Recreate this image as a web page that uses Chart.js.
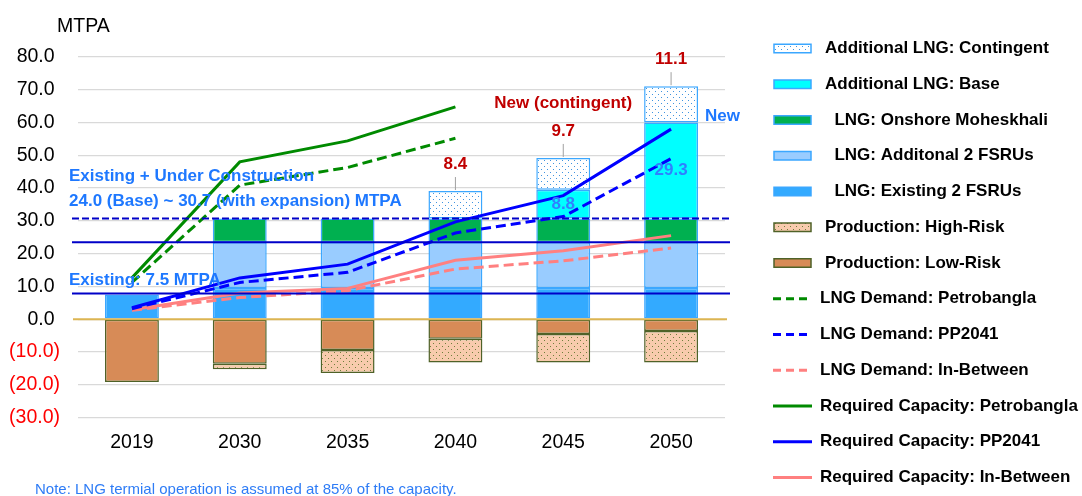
<!DOCTYPE html>
<html>
<head>
<meta charset="utf-8">
<script src="https://cdn.jsdelivr.net/npm/chart.js@4.4.1/dist/chart.umd.min.js"></script>
<style>
  html, body { margin: 0; padding: 0; background: #fff; }
  #wrap { width: 1082px; height: 496px; }
</style>
</head>
<body>
<div id="wrap"><canvas id="lngChart" width="1082" height="496"></canvas></div>
<script>
// LNG import capacity vs. demand outlook (MTPA)

const years = ['2019', '2030', '2035', '2040', '2045', '2050'];

// stacked capacity bars (production shown as negative)
const existingFsru = [7.5, 9.5, 9.5, 9.5, 9.5, 9.5];
const additionalFsru = [null, 14.0, 14.0, 14.0, 14.0, 14.0];
const onshoreMoheskhali = [null, 7.2, 7.2, 7.2, 7.2, 7.2];
const additionalBase = [null, null, null, null, 8.8, 29.3];
const additionalContingent = [null, null, null, 8.4, 9.7, 11.1];
const productionLowRisk = [-19.2, -13.6, -9.4, -6.0, -4.5, -3.6];
const productionHighRisk = [null, -1.7, -7.0, -7.2, -8.7, -9.6];

// demand / required capacity lines
const demandPetrobangla = [11.2, 40.9, 46.3, 55.2, null, null];
const demandPP2041 = [3.2, 11.2, 14.3, 26.3, 31.3, 49.0];
const demandInBetween = [2.7, 6.6, 8.7, 15.3, 17.8, 21.7];
const requiredPetrobangla = [12.6, 48.0, 54.4, 64.8, null, null];
const requiredPP2041 = [3.5, 12.6, 16.8, 29.7, 37.7, 58.0];
const requiredInBetween = [2.9, 8.0, 9.4, 18.0, 20.9, 25.5];

// horizontal capacity levels: existing, base, with expansion
const refLevels = [7.8, 23.5, 30.7];

const yMin = -30;
const yMax = 80;
const yStep = 10;

const FONT = "'Liberation Sans', Arial, sans-serif";
Chart.defaults.font.family = FONT;

function dotPattern(bg, dot) {
    const c = document.createElement('canvas');
    c.width = 6;
    c.height = 6;
    const g = c.getContext('2d');
    g.fillStyle = bg;
    g.fillRect(0, 0, 6, 6);
    g.fillStyle = dot;
    g.fillRect(1, 1, 1, 1);
    g.fillRect(4, 4, 1, 1);
    return g.createPattern(c, 'repeat');
}

const contingentFill = dotPattern('#ffffff', '#3f94e0');
const highRiskFill = dotPattern('#f8cbad', '#6f7f3c');

const lngBorder = '#3ba7ff';
const prodBorder = '#4f6228';

function lineSet(label, data, color, dashed, stack) {
    return {
        type: 'line',
        label,
        data,
        stack,
        borderColor: color,
        backgroundColor: color,
        borderWidth: 3,
        borderDash: dashed ? [10, 5] : [],
        pointRadius: 0,
        tension: 0,
        fill: false,
        order: 0
    };
}

function barSet(label, data, fill, border) {
    return {
        type: 'bar',
        label,
        data,
        stack: 'cap',
        backgroundColor: fill,
        borderColor: border,
        borderWidth: 1.5,
        borderSkipped: false,
        barPercentage: 0.5,
        categoryPercentage: 1.0,
        order: 1
    };
}

const datasets = [
    lineSet('LNG Demand: Petrobangla', demandPetrobangla, '#008a00', true, 'l1'),
    lineSet('LNG Demand: PP2041', demandPP2041, '#0000ff', true, 'l2'),
    lineSet('LNG Demand: In-Between', demandInBetween, '#ff8080', true, 'l3'),
    lineSet('Required Capacity: Petrobangla', requiredPetrobangla, '#008a00', false, 'l4'),
    lineSet('Required Capacity: PP2041', requiredPP2041, '#0000ff', false, 'l5'),
    lineSet('Required Capacity: In-Between', requiredInBetween, '#ff8080', false, 'l6'),
    barSet('  LNG: Existing 2 FSRUs', existingFsru, '#33aaff', lngBorder),
    barSet('  LNG: Additonal 2 FSRUs', additionalFsru, '#99ccff', lngBorder),
    barSet('  LNG: Onshore Moheskhali', onshoreMoheskhali, '#00b050', lngBorder),
    barSet('Additional LNG: Base', additionalBase, '#00ffff', lngBorder),
    barSet('Additional LNG: Contingent', additionalContingent, contingentFill, lngBorder),
    barSet('Production: Low-Risk', productionLowRisk, '#d78b57', prodBorder),
    barSet('Production: High-Risk', productionHighRisk, highRiskFill, prodBorder)
];

// legend order as in the original
const legendOrder = [10, 9, 8, 7, 6, 12, 11, 0, 1, 2, 3, 4, 5];

function hline(ctx, x1, x2, yy) {
    ctx.beginPath();
    ctx.moveTo(x1, yy);
    ctx.lineTo(x2, yy);
    ctx.stroke();
}

const overlayPlugin = {
    id: 'overlay',
    afterDatasetsDraw(chart) {
        const { ctx, chartArea: area, scales: { x, y } } = chart;
        ctx.save();

        // zero line
        ctx.strokeStyle = '#dcb552';
        ctx.lineWidth = 2;
        hline(ctx, area.left - 5, area.right + 2, y.getPixelForValue(0));

        // capacity levels
        ctx.strokeStyle = '#0000c8';
        refLevels.forEach((v, i) => {
            ctx.setLineDash(i === 2 ? [7, 3] : []);
            hline(ctx, area.left - 6, area.right + 5, y.getPixelForValue(v));
        });
        ctx.setLineDash([]);

        ctx.textBaseline = 'middle';
        ctx.textAlign = 'left';
        ctx.fillStyle = '#1e78ff';
        ctx.font = 'bold 17px ' + FONT;
        const topLevel = y.getPixelForValue(refLevels[2]);
        ctx.fillText('Existing + Under Construction', area.left - 9, topLevel - 42);
        ctx.fillText('24.0 (Base) ~ 30.7 (with expansion) MTPA', area.left - 9, topLevel - 17);
        ctx.fillText('Existing: 7.5 MTPA', area.left - 9, y.getPixelForValue(refLevels[0]) - 13);

        // contingent totals with leader lines
        const contMeta = chart.getDatasetMeta(10);
        additionalContingent.forEach((v, i) => {
            if (v == null) return;
            const bar = contMeta.data[i];
            ctx.strokeStyle = '#a0a0a0';
            ctx.lineWidth = 1;
            ctx.beginPath();
            ctx.moveTo(bar.x, bar.y - 1);
            ctx.lineTo(bar.x, bar.y - 14);
            ctx.stroke();
            ctx.fillStyle = '#c00000';
            ctx.textAlign = 'center';
            ctx.fillText(v.toFixed(1), bar.x, bar.y - 27);
        });

        // base labels inside the bars
        const baseMeta = chart.getDatasetMeta(9);
        ctx.fillStyle = '#2f80ff';
        additionalBase.forEach((v, i) => {
            if (v == null) return;
            const bar = baseMeta.data[i];
            ctx.fillText(v.toFixed(1), bar.x, (bar.y + bar.base) / 2);
        });

        ctx.fillStyle = '#c00000';
        ctx.fillText('New (contingent)', x.getPixelForValue(4), y.getPixelForValue(66));
        const last = baseMeta.data[5];
        ctx.textAlign = 'left';
        ctx.fillStyle = '#1e78ff';
        ctx.fillText('New', last.x + last.width / 2 + 7, y.getPixelForValue(62));

        ctx.restore();
    },
    afterDraw(chart) {
        const { ctx, chartArea: area } = chart;
        ctx.save();
        ctx.textBaseline = 'middle';

        // unit label and footnote
        ctx.fillStyle = '#000';
        ctx.font = '19.5px ' + FONT;
        ctx.fillText('MTPA', area.left - 21, area.top - 30);
        ctx.fillStyle = '#2e7cf6';
        ctx.font = '15px ' + FONT;
        ctx.fillText('Note: LNG termial operation is assumed at 85% of the capacity.', 35, 490);

        // legend
        ctx.font = 'bold 17px ' + FONT;
        legendOrder.forEach((dsIndex, row) => {
            const ds = chart.data.datasets[dsIndex];
            const cy = 48.5 + row * 35.75;
            if (ds.type === 'line') {
                ctx.strokeStyle = ds.borderColor;
                ctx.lineWidth = 3;
                ctx.setLineDash(ds.borderDash.length ? [8, 5] : []);
                hline(ctx, 773, 812, cy);
                ctx.setLineDash([]);
                ctx.fillStyle = '#000';
                ctx.fillText(ds.label, 820, cy);
            } else {
                ctx.fillStyle = ds.backgroundColor;
                ctx.fillRect(774, cy - 4.25, 37, 8.5);
                ctx.strokeStyle = ds.borderColor;
                ctx.lineWidth = 1.5;
                ctx.strokeRect(774, cy - 4.25, 37, 8.5);
                ctx.fillStyle = '#000';
                ctx.fillText(ds.label, 825, cy);
            }
        });
        ctx.restore();
    }
};

new Chart(document.getElementById('lngChart'), {
    data: { labels: years, datasets },
    plugins: [overlayPlugin],
    options: {
        responsive: false,
        animation: false,
        layout: { padding: { top: 57, right: 357, left: 0, bottom: 0 } },
        plugins: {
            legend: { display: false },
            tooltip: { enabled: false }
        },
        scales: {
            x: {
                stacked: true,
                grid: { display: false, drawTicks: false },
                border: { display: false },
                ticks: { color: '#000', font: { size: 19.5 }, padding: 13 },
                afterFit: (s) => { s.height = 78.5; }
            },
            y: {
                stacked: true,
                min: yMin,
                max: yMax,
                border: { display: false },
                grid: { color: '#d9d9d9', lineWidth: 1.3, drawTicks: false },
                ticks: {
                    stepSize: yStep,
                    padding: 18,
                    font: { size: 19.5 },
                    color: (c) => (c.tick && c.tick.value < 0 ? '#ff0000' : '#000'),
                    callback: (v) => (v < 0 ? '(' + (-v).toFixed(1) + ')' : v.toFixed(1) + ' ')
                },
                afterFit: (s) => { s.width = 78; }
            }
        }
    }
});
</script>
</body>
</html>
